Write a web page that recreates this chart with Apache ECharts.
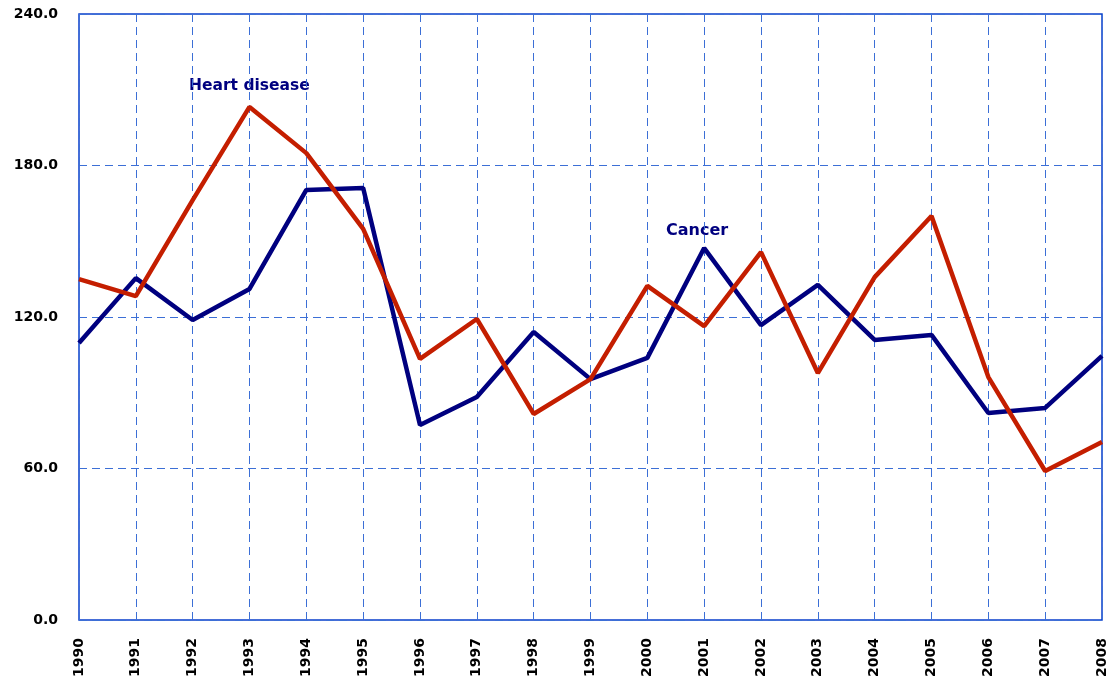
<!DOCTYPE html>
<html><head><meta charset="utf-8">
<script src="https://cdn.jsdelivr.net/npm/echarts@6/dist/echarts.min.js"></script>
<style>html,body{margin:0;padding:0;background:#fff}#c{width:1112px;height:680px}</style>
</head><body><div id="c"></div>
<script>
const years = ['1990','1991','1992','1993','1994','1995','1996','1997','1998','1999','2000','2001','2002','2003','2004','2005','2006','2007','2008'];
const cancer = [109.7,135.4,118.8,131.1,170.3,171.1,77.2,88.3,114.1,95.4,103.8,147.3,116.8,132.7,110.9,112.9,82.0,84.0,104.6];
const heartDisease = [135.0,128.3,166.3,203.2,184.9,154.9,103.4,119.2,81.6,95.4,132.3,116.4,145.7,97.8,135.8,160.0,96.2,59.0,70.5];
const seriesNames = ['Heart disease','Cancer'];

const chart = echarts.init(document.getElementById('c'));
const gridCol = '#3c6fd6';
chart.setOption({
  animation:false,
  grid:{left:79,right:10,top:14,bottom:60,show:true,borderColor:'#0a3fcc',borderWidth:1.5,backgroundColor:'transparent'},
  xAxis:{type:'category',data:years,boundaryGap:false,
    axisLine:{show:false},axisTick:{show:false},
    axisLabel:{rotate:90,fontFamily:'DejaVu Sans',fontWeight:'bold',fontSize:14,color:'#000',margin:18},
    splitLine:{show:true,lineStyle:{color:gridCol,type:[8,5],width:1}}},
  yAxis:{type:'value',min:0,max:240,interval:60,
    axisLine:{show:false},axisTick:{show:false},
    axisLabel:{formatter:v=>v.toFixed(1),fontFamily:'DejaVu Sans',fontWeight:'bold',fontSize:14,color:'#000',margin:21},
    splitLine:{show:true,lineStyle:{color:gridCol,type:[8,5],width:1}}},
  series:[
    {name:seriesNames[1],type:'line',data:cancer,symbol:'none',lineStyle:{color:'#00007f',width:4.5},z:2},
    {name:seriesNames[0],type:'line',data:heartDisease,symbol:'none',lineStyle:{color:'#c41e00',width:4.5},z:3}
  ],
  graphic:[
    {type:'text',left:189,top:78,style:{text:seriesNames[0],fill:'#00007f',font:'bold 15.5px "DejaVu Sans"'}},
    {type:'text',left:666,top:223,style:{text:seriesNames[1],fill:'#00007f',font:'bold 16px "DejaVu Sans"'}}
  ]
});
</script></body></html>
